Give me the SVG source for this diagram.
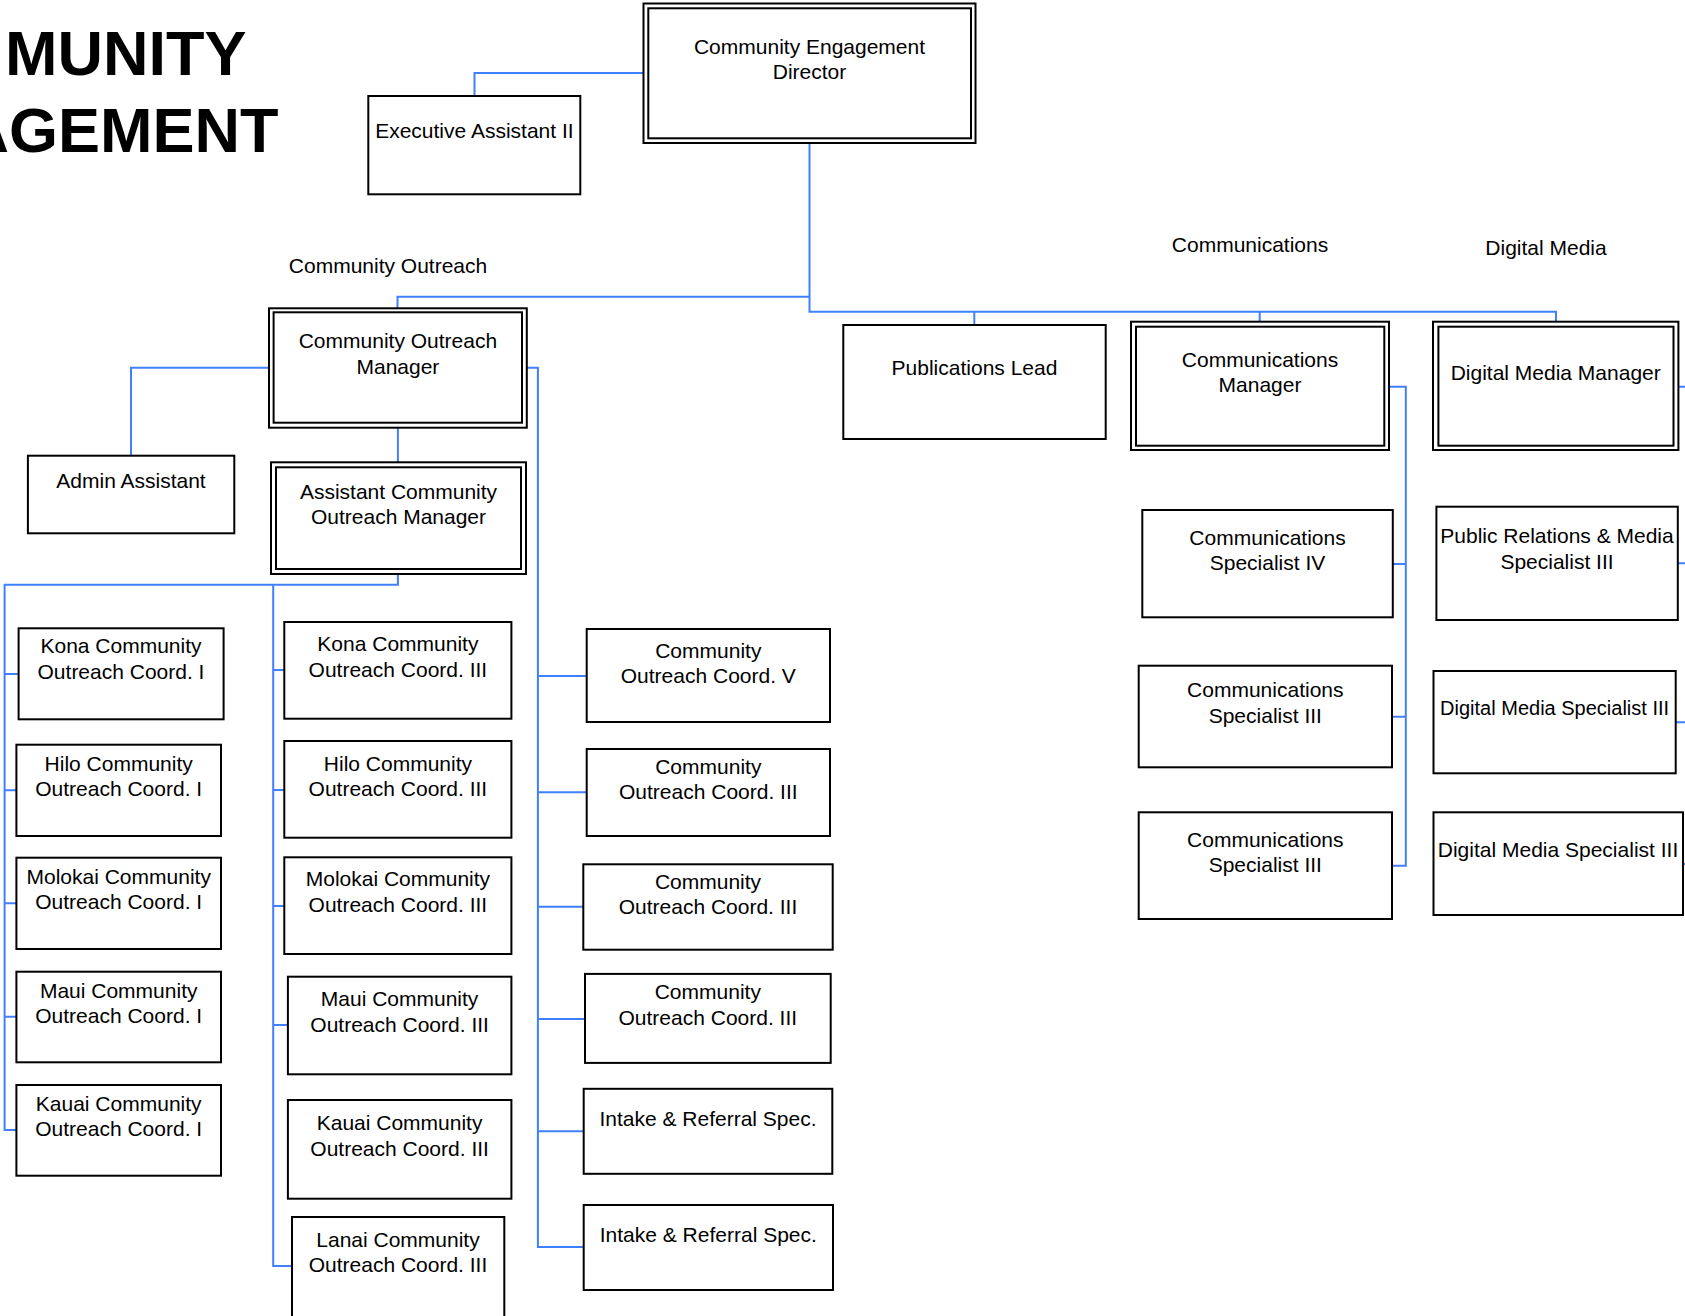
<svg xmlns="http://www.w3.org/2000/svg" width="1685" height="1316" viewBox="0 0 1685 1316">
<style>
  .bx { fill: #ffffff; stroke: #000000; stroke-width: 2; }
  .t { font-family: "Liberation Sans", Arial, sans-serif; font-size: 21px; fill: #000000; text-anchor: middle; }
  .lbl { font-family: "Liberation Sans", Arial, sans-serif; font-size: 21px; fill: #000000; text-anchor: middle; }
  .title { font-family: "Liberation Sans", Arial, sans-serif; font-size: 63px; font-weight: bold; fill: #000000; }
  .cn { fill: none; stroke: #4080ff; stroke-width: 2; }
</style>
<rect width="1685" height="1316" fill="#ffffff"/>

<g id="title">
  <text class="title" x="5" y="75">MUNITY</text>
  <text class="title" x="-36.5" y="152">AGEMENT</text>
</g>

<g id="section-labels">
  <text class="lbl" x="388" y="273">Community Outreach</text>
  <text class="lbl" x="1250" y="252">Communications</text>
  <text class="lbl" x="1546" y="255">Digital Media</text>
</g>

<g id="connectors">
  <path class="cn" d="M643,73 H474.5 V96"/>
  <path class="cn" d="M809.5,143 V311.7 H1556 V322"/>
  <path class="cn" d="M810,296.7 H397.5 V308"/>
  <path class="cn" d="M974.3,311.7 V325"/>
  <path class="cn" d="M1259.7,311.7 V322"/>
  <path class="cn" d="M269,367.7 H131 V455.7"/>
  <path class="cn" d="M397.9,427.7 V462.3"/>
  <path class="cn" d="M397.9,574 V584.7 H4.6 V1130 H16.4"/>
  <path class="cn" d="M4.6,674 H18.6 M4.6,790.3 H16.4 M4.6,903.3 H16.4 M4.6,1016.7 H16.4"/>
  <path class="cn" d="M273.2,584.7 V1266 H292"/>
  <path class="cn" d="M273.2,670 H284.3 M273.2,790 H284.3 M273.2,906 H284.3 M273.2,1025 H287.9"/>
  <path class="cn" d="M526.8,367.7 H537.9 V1247 H583.7"/>
  <path class="cn" d="M537.9,676 H586.7 M537.9,792.3 H586.7 M537.9,906.8 H583.3 M537.9,1019 H585 M537.9,1131.3 H583.7"/>
  <path class="cn" d="M1389,386.7 H1405.8 V865.7 H1392"/>
  <path class="cn" d="M1392.8,564 H1405.8 M1392,716.7 H1405.8"/>
  <path class="cn" d="M1678.4,386.7 H1686 M1677.8,563.3 H1686 M1675.7,722.3 H1686 M1683,864 H1686"/>
</g>

<g id="director">
  <rect class="bx" x="643.5" y="3.5" width="332" height="139.5"/>
  <rect class="bx" x="648.3" y="8.3" width="322.7" height="130"/>
  <text class="t" x="809.5" y="54">Community Engagement</text>
  <text class="t" x="809.5" y="79">Director</text>
</g>
<g id="exec-assistant">
  <rect class="bx" x="368.3" y="96" width="212" height="98.3"/>
  <text class="t" x="474.4" y="138">Executive Assistant II</text>
</g>
<g id="publications-lead">
  <rect class="bx" x="843.3" y="325" width="262.4" height="114"/>
  <text class="t" x="974.5" y="375">Publications Lead</text>
</g>
<g id="comm-manager">
  <rect class="bx" x="1131" y="321.7" width="258" height="128.3"/>
  <rect class="bx" x="1136" y="326.7" width="248.3" height="119"/>
  <text class="t" x="1260" y="366.7">Communications</text>
  <text class="t" x="1260" y="391.7">Manager</text>
</g>
<g id="dm-manager">
  <rect class="bx" x="1433" y="321.7" width="245.4" height="128.3"/>
  <rect class="bx" x="1438.4" y="326.7" width="235.1" height="119"/>
  <text class="t" x="1555.7" y="380">Digital Media Manager</text>
</g>
<g id="co-manager">
  <rect class="bx" x="269" y="308.3" width="257.8" height="119.4"/>
  <rect class="bx" x="273.6" y="312.3" width="248.4" height="110.4"/>
  <text class="t" x="397.9" y="348.3">Community Outreach</text>
  <text class="t" x="397.9" y="374.3">Manager</text>
</g>
<g id="admin-assistant">
  <rect class="bx" x="27.9" y="455.7" width="206.4" height="77.6"/>
  <text class="t" x="131" y="488.3">Admin Assistant</text>
</g>
<g id="asst-co-manager">
  <rect class="bx" x="271" y="462.3" width="255" height="111.7"/>
  <rect class="bx" x="276" y="467.3" width="245" height="101.7"/>
  <text class="t" x="398.5" y="499">Assistant Community</text>
  <text class="t" x="398.5" y="524">Outreach Manager</text>
</g>

<g id="kona-1">
  <rect class="bx" x="18.6" y="628.3" width="205" height="91"/>
  <text class="t" x="121" y="653.3">Kona Community</text>
  <text class="t" x="121" y="679.3">Outreach Coord. I</text>
</g>
<g id="hilo-1">
  <rect class="bx" x="16.4" y="744.7" width="204.6" height="91.3"/>
  <text class="t" x="118.7" y="771">Hilo Community</text>
  <text class="t" x="118.7" y="796">Outreach Coord. I</text>
</g>
<g id="molokai-1">
  <rect class="bx" x="16.4" y="857.7" width="204.6" height="91.3"/>
  <text class="t" x="118.7" y="884">Molokai Community</text>
  <text class="t" x="118.7" y="909">Outreach Coord. I</text>
</g>
<g id="maui-1">
  <rect class="bx" x="16.4" y="971.7" width="204.6" height="90.6"/>
  <text class="t" x="118.7" y="997.7">Maui Community</text>
  <text class="t" x="118.7" y="1022.7">Outreach Coord. I</text>
</g>
<g id="kauai-1">
  <rect class="bx" x="16.4" y="1085" width="204.6" height="90.7"/>
  <text class="t" x="118.7" y="1111">Kauai Community</text>
  <text class="t" x="118.7" y="1136">Outreach Coord. I</text>
</g>

<g id="kona-3">
  <rect class="bx" x="284.3" y="622" width="227.1" height="96.7"/>
  <text class="t" x="397.9" y="650.7">Kona Community</text>
  <text class="t" x="397.9" y="676.7">Outreach Coord. III</text>
</g>
<g id="hilo-3">
  <rect class="bx" x="284.3" y="741" width="227.1" height="96.7"/>
  <text class="t" x="397.9" y="770.7">Hilo Community</text>
  <text class="t" x="397.9" y="796">Outreach Coord. III</text>
</g>
<g id="molokai-3">
  <rect class="bx" x="284.3" y="857.3" width="227.1" height="96.7"/>
  <text class="t" x="397.9" y="885.7">Molokai Community</text>
  <text class="t" x="397.9" y="911.7">Outreach Coord. III</text>
</g>
<g id="maui-3">
  <rect class="bx" x="287.9" y="976.7" width="223.5" height="97.6"/>
  <text class="t" x="399.6" y="1006">Maui Community</text>
  <text class="t" x="399.6" y="1031.7">Outreach Coord. III</text>
</g>
<g id="kauai-3">
  <rect class="bx" x="287.9" y="1100" width="223.5" height="98.7"/>
  <text class="t" x="399.6" y="1130">Kauai Community</text>
  <text class="t" x="399.6" y="1155.7">Outreach Coord. III</text>
</g>
<g id="lanai-3">
  <rect class="bx" x="292" y="1217" width="212.3" height="101"/>
  <text class="t" x="398" y="1246.7">Lanai Community</text>
  <text class="t" x="398" y="1272.3">Outreach Coord. III</text>
</g>

<g id="co-coord-5">
  <rect class="bx" x="586.7" y="629" width="243.3" height="93"/>
  <text class="t" x="708.3" y="658">Community</text>
  <text class="t" x="708.3" y="682.7">Outreach Coord. V</text>
</g>
<g id="co-coord-3a">
  <rect class="bx" x="586.7" y="749" width="243.3" height="87"/>
  <text class="t" x="708.3" y="774.4">Community</text>
  <text class="t" x="708.3" y="799">Outreach Coord. III</text>
</g>
<g id="co-coord-3b">
  <rect class="bx" x="583.3" y="864.3" width="249.4" height="85.4"/>
  <text class="t" x="708" y="888.5">Community</text>
  <text class="t" x="708" y="914">Outreach Coord. III</text>
</g>
<g id="co-coord-3c">
  <rect class="bx" x="585" y="973.9" width="245.7" height="89"/>
  <text class="t" x="707.8" y="999.4">Community</text>
  <text class="t" x="707.8" y="1024.9">Outreach Coord. III</text>
</g>
<g id="intake-1">
  <rect class="bx" x="583.7" y="1088.8" width="248.6" height="85"/>
  <text class="t" x="708" y="1125.5">Intake &amp; Referral Spec.</text>
</g>
<g id="intake-2">
  <rect class="bx" x="583.7" y="1205" width="249.3" height="85"/>
  <text class="t" x="708.3" y="1241.8">Intake &amp; Referral Spec.</text>
</g>

<g id="comm-spec-4">
  <rect class="bx" x="1142.3" y="510" width="250.5" height="107.3"/>
  <text class="t" x="1267.5" y="545">Communications</text>
  <text class="t" x="1267.5" y="570">Specialist IV</text>
</g>
<g id="comm-spec-3a">
  <rect class="bx" x="1138.7" y="665.7" width="253.3" height="101.6"/>
  <text class="t" x="1265.3" y="697.3">Communications</text>
  <text class="t" x="1265.3" y="722.7">Specialist III</text>
</g>
<g id="comm-spec-3b">
  <rect class="bx" x="1138.7" y="812.3" width="253.3" height="106.7"/>
  <text class="t" x="1265.3" y="846.7">Communications</text>
  <text class="t" x="1265.3" y="871.7">Specialist III</text>
</g>

<g id="pr-media-spec">
  <rect class="bx" x="1436.4" y="506.7" width="241.4" height="113.3"/>
  <text class="t" x="1557" y="543.3">Public Relations &amp; Media</text>
  <text class="t" x="1557" y="569.3">Specialist III</text>
</g>
<g id="dm-spec-3a">
  <rect class="bx" x="1433.5" y="671" width="242.2" height="102.3"/>
  <text class="t" x="1554.6" y="715" style="font-size:20px">Digital Media Specialist III</text>
</g>
<g id="dm-spec-3b">
  <rect class="bx" x="1433.5" y="812.3" width="249.5" height="102.7"/>
  <text class="t" x="1558" y="856.7">Digital Media Specialist III</text>
</g>
</svg>
